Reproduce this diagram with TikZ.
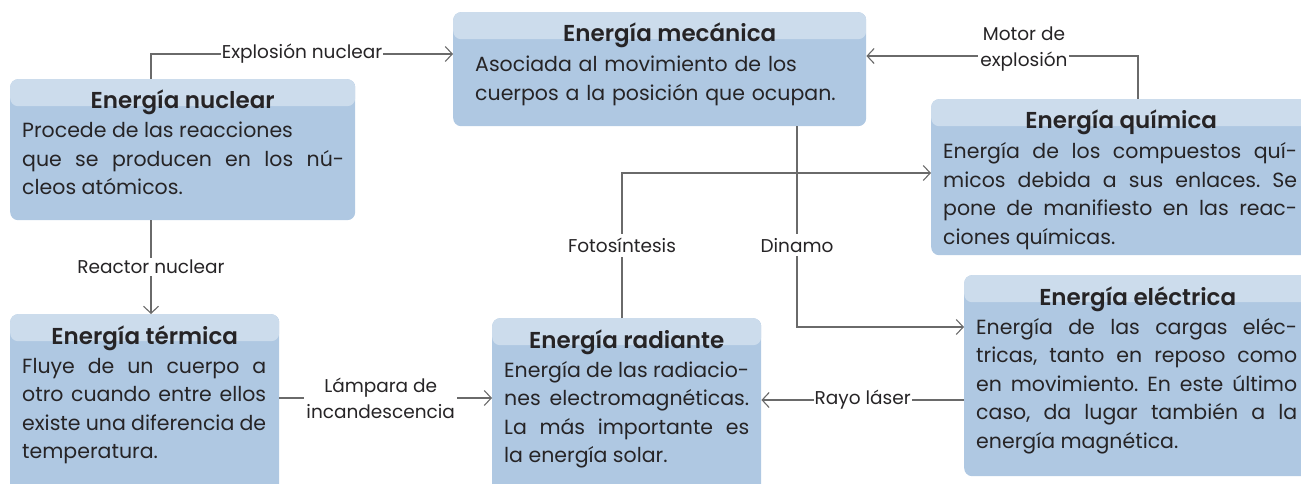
\documentclass[tikz,border=0pt]{standalone}
\usepackage{fontspec}
\setmainfont{Poppins}[BoldFont={Poppins SemiBold}]
\usetikzlibrary{arrows.meta}
\definecolor{bandblue}{HTML}{CCDCEC}
\definecolor{bodyblue}{HTML}{AFC8E2}
\definecolor{linegray}{HTML}{6A6A6A}
\definecolor{inkgray}{HTML}{262426}
\frenchspacing
\hbadness=10000
\hfuzz=20pt

\begin{document}
\begin{tikzpicture}[x=1pt,y=-1pt,
  card/.style={fill=bodyblue,rounded corners=8pt,inner sep=0pt,anchor=north west,
    path picture={\fill[bandblue] (path picture bounding box.north west)
      rectangle ([yshift=-27pt]path picture bounding box.north east);}},
  title/.style={anchor=base,inner sep=0pt,text=inkgray,font=\fontsize{23}{26}\selectfont\bfseries},
  body/.style={anchor=base west,inner sep=0pt,align=justify,text=inkgray,
    font=\fontsize{20.5}{28.5}\selectfont},
  lbl/.style={fill=white,inner sep=2pt,text=inkgray,font=\fontsize{18.5}{26}\selectfont},
  link/.style={draw=linegray,line width=1.1pt,-{Straight Barb[length=7pt,width=15pt]}}]
  \useasboundingbox (0,0) rectangle (1301,484);
  % cards with their titles
  \foreach \n/\x/\y/\w/\h/\d/\t in {nuc/10/79/345/141/0/Energía nuclear,
      mec/453/12/413/114/10/Energía mecánica, qui/931/99/380/156/0/Energía química,
      ter/10/314/269/180/0/Energía térmica, rad/492/318/269/176/0/Energía radiante,
      ele/964/275/347/201/0/Energía eléctrica} {
    \node[card,minimum width=\w,minimum height=\h] (\n) at (\x,\y) {};
    \node[title] (\n-t) at ([shift={(\d pt,-30pt)}]\n.north) {\t};
  }
  % texts (one line of the card per source line)
  \node[body,text width=322pt] (nuc-b) at ([shift={(12pt,-59pt)}]nuc.north west)
    {Procede~de~las~reacciones\\
     que~se~producen~en~los~nú-\linebreak
     cleos~atómicos.};
  \node[body,text width=370pt,align=left] (mec-b) at ([shift={(22pt,-60pt)}]mec.north west)
    {Asociada al movimiento de los\\ cuerpos a la posición que ocupan.};
  \node[body,text width=354pt] (qui-b) at ([shift={(12pt,-60pt)}]qui.north west)
    {Energía~de~los~compuestos~quí-\linebreak
     micos~debida~a~sus~enlaces.~Se\linebreak
     pone~de~manifiesto~en~las~reac-\linebreak
     ciones~químicas.};
  \node[body,text width=244pt] (ter-b) at ([shift={(12pt,-59pt)}]ter.north west)
    {Fluye~de~un~cuerpo~a\linebreak
     otro~cuando~entre~ellos\linebreak
     existe~una~diferencia~de\linebreak
     temperatura.};
  \node[body,text width=245pt] (rad-b) at ([shift={(12pt,-59pt)}]rad.north west)
    {Energía~de~las~radiacio-\linebreak
     nes~electromagnéticas.\linebreak
     La~más~importante~es\linebreak
     la~energía~solar.};
  \node[body,text width=321pt] (ele-b) at ([shift={(12pt,-59pt)}]ele.north west)
    {Energía~de~las~cargas~eléc-\linebreak
     tricas,~tanto~en~reposo~como\linebreak
     en~movimiento.~En~este~último\linebreak
     caso,~da~lugar~también~a~la\linebreak
     energía~magnética.};
  % transformations
  \draw[link] ([xshift=141pt]nuc.north west) |- ([yshift=-42pt]mec.north west)
    node[lbl,pos=0.75,inner sep=1pt] (l-expl) {Explosión nuclear};
  \draw[link] ([xshift=141pt]nuc.south west) -- ([xshift=141pt]ter.north west)
    node[lbl,midway] (l-reac) {Reactor nuclear};
  \draw[link] ([xshift=207pt]qui.north west) |- ([yshift=-44pt]mec.north east)
    node[lbl,pos=0.71,yshift=7pt,align=center] (l-mot) {Motor de\\explosión};
  \draw[link] ([xshift=130pt]rad.north west) |- ([yshift=-74pt]qui.north west)
    node[lbl,pos=0.25,inner sep=4pt] (l-foto) {Fotosíntesis};
  \draw[link] ([xshift=344pt]mec.south west) |- ([yshift=-52pt]ele.north west)
    node[lbl,pos=0.296,inner sep=4pt] (l-din) {Dinamo};
  \draw[link] ([yshift=-84pt]ter.north east) -- ([yshift=-84pt]ter.north east -| rad.west)
    node[lbl,midway,xshift=-5pt,align=center] (l-lamp) {Lámpara de\\incandescencia};
  \draw[link] ([yshift=-125pt]ele.north west) -- ([yshift=-125pt]ele.north west -| rad.east)
    node[lbl,midway,inner sep=1pt] (l-rayo) {Rayo láser};
\end{tikzpicture}
\end{document}
